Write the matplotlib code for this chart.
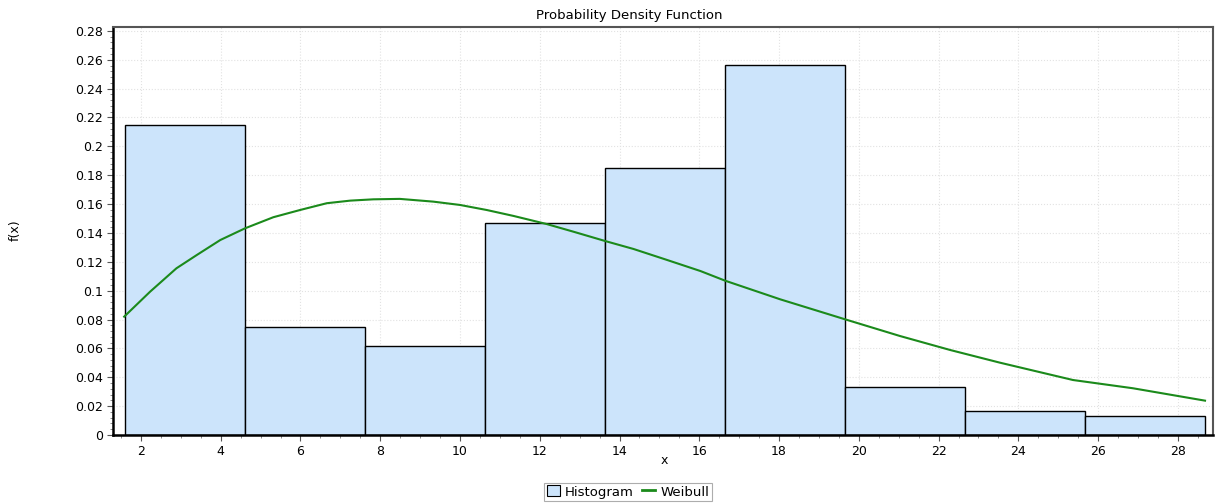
import matplotlib.pyplot as plt
from matplotlib.ticker import MultipleLocator, FuncFormatter
from matplotlib.patches import Patch
from matplotlib.lines import Line2D

plt.rcParams['font.family'] = ['DejaVu Sans']

# histogram bins (relative frequency per bin)
bin_edges = [1.60, 4.61, 7.62, 10.63, 13.64, 16.65, 19.66, 22.67, 25.68, 28.69]
bin_heights = [0.2148, 0.0748, 0.0617, 0.1470, 0.1850, 0.2564, 0.0333, 0.0166, 0.0132]

# fitted Weibull density
weibull_x = [1.58, 2.23, 2.89, 3.40, 3.99, 4.61, 5.32, 5.99, 6.66, 7.25, 7.83,
             8.49, 9.33, 10.00, 10.67, 11.34, 12.17, 12.84, 13.64, 14.35, 15.19,
             16.03, 16.65, 18.03, 19.65, 21.03, 22.29, 23.54, 25.37, 26.87, 28.68]
weibull_y = [0.0820, 0.0993, 0.1155, 0.1247, 0.1351, 0.1432, 0.1509, 0.1559, 0.1606, 0.1624, 0.1633,
             0.1636, 0.1617, 0.1594, 0.1559, 0.1518, 0.1462, 0.1409, 0.1344, 0.1289, 0.1213,
             0.1136, 0.1069, 0.0940, 0.0802, 0.0686, 0.0589, 0.0501, 0.0381, 0.0324, 0.0238]

bar_color = '#cce4fb'
line_color = '#1b8a1b'

fig = plt.figure(figsize=(12.16, 5.04), dpi=100)
ax = fig.add_axes([113 / 1216, 69 / 504, (1213 - 113) / 1216, (435 - 27) / 504])

widths = [bin_edges[i + 1] - bin_edges[i] for i in range(len(bin_heights))]
ax.bar(bin_edges[:-1], bin_heights, width=widths, align='edge',
       color=bar_color, edgecolor='black', linewidth=1.0, zorder=2)
ax.plot(weibull_x, weibull_y, color=line_color, linewidth=1.5, zorder=3)

ax.set_xlim(1.30, 28.88)
ax.set_ylim(0, 0.2827)

ax.xaxis.set_major_locator(MultipleLocator(2))
ax.xaxis.set_minor_locator(MultipleLocator(0.5))
ax.yaxis.set_major_locator(MultipleLocator(0.02))
ax.yaxis.set_minor_locator(MultipleLocator(0.004))
ax.yaxis.set_major_formatter(FuncFormatter(lambda v, p: '%g' % round(v, 4)))

ax.tick_params(which='major', direction='out', length=4, width=0.8,
               labelsize=9, color='#555555', pad=3)
ax.tick_params(which='minor', direction='out', length=2, width=0.6, color='#777777')

ax.grid(True, which='major', linestyle=':', color='#e2e2e2', linewidth=0.8, zorder=0)
ax.set_axisbelow(True)

for side in ['left', 'bottom']:
    ax.spines[side].set_linewidth(1.8)
    ax.spines[side].set_color('black')
ax.spines['top'].set_linewidth(1.5)
ax.spines['top'].set_color('#555555')
ax.spines['right'].set_linewidth(1.5)
ax.spines['right'].set_color('#555555')

fig.text(629 / 1216, 1 - 16 / 504, 'Probability Density Function', fontsize=9.5,
         ha='center', va='center')
fig.text(664 / 1216, 1 - 460 / 504, 'x', fontsize=9, ha='center', va='center')
fig.text(15 / 1216, 1 - 230 / 504, 'f(x)', rotation=90, fontsize=9,
         ha='center', va='center')

handles = [Patch(facecolor=bar_color, edgecolor='black', linewidth=0.8),
           Line2D([0], [0], color=line_color, linewidth=2)]
leg = fig.legend(handles, ['Histogram', 'Weibull'], loc='center',
                 bbox_to_anchor=(628 / 1216, 1 - 492 / 504), ncol=2,
                 fontsize=9.5, frameon=True, fancybox=False, handlelength=1.0,
                 handleheight=0.9, handletextpad=0.4, columnspacing=0.6,
                 borderpad=0.2, borderaxespad=0)
leg.get_frame().set_edgecolor('#999999')
leg.get_frame().set_linewidth(0.8)

fig.savefig('out.png', dpi=100)
